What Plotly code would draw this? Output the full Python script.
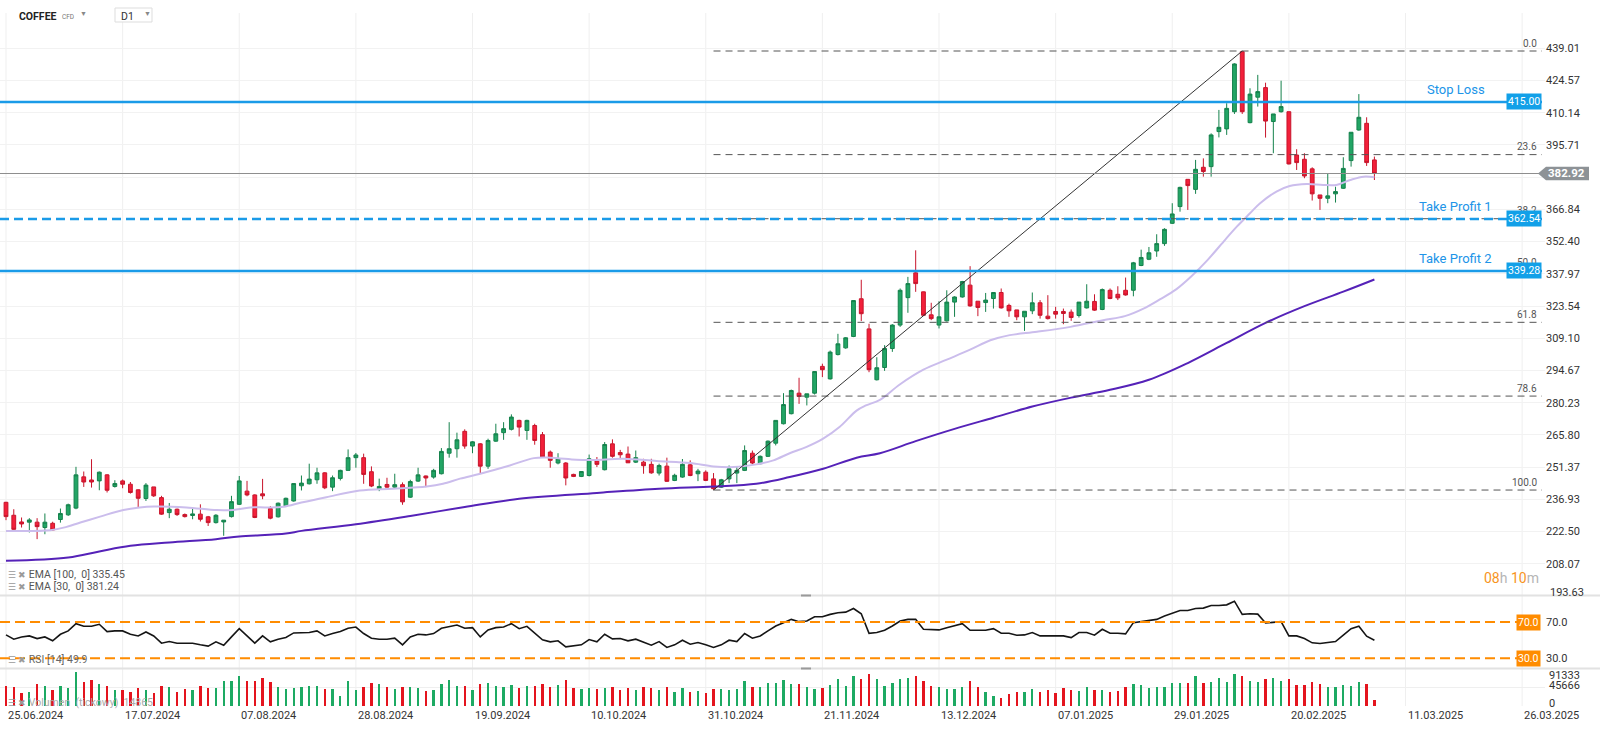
import plotly.graph_objects as go

# ---------------- DATA ----------------
opens = [235.6, 229.8, 226.8, 226.7, 226.7, 224.3, 226.2, 227.9, 230.0, 233.0,
         247.0, 245.6, 245.2, 247.9, 242.7, 245.2, 243.7, 241.2, 237.3, 242.5,
         237.7, 231.0, 232.5, 230.1, 229.7, 230.3, 229.1, 226.5, 226.8, 229.2,
         234.7, 240.6, 238.9, 239.4, 232.8, 229.1, 234.0, 236.2, 243.0, 243.9,
         245.7, 248.8, 242.4, 246.3, 249.9, 255.6, 255.6, 249.3, 241.5, 243.6,
         242.4, 243.5, 237.9, 245.1, 247.4, 246.9, 248.4, 257.6, 259.6, 267.4,
         260.8, 261.8, 251.8, 263.0, 266.8, 268.3, 272.3, 267.8, 270.0, 265.9,
         258.1, 253.2, 253.2, 248.1, 247.2, 247.6, 254.1, 250.2, 261.8, 257.9,
         257.2, 253.6, 253.6, 252.6, 248.7, 251.8, 245.4, 246.9, 252.4, 248.4,
         249.1, 246.1, 242.4, 246.1, 248.7, 249.9, 257.6, 252.9, 256.2, 262.1,
         270.8, 275.3, 284.5, 282.7, 284.5, 296.5, 290.9, 301.8, 304.8, 309.9,
         326.8, 313.3, 290.5, 296.0, 304.5, 315.0, 327.3, 338.4, 329.9, 319.6,
         315.0, 316.9, 325.3, 327.6, 332.9, 325.7, 325.1, 326.9, 329.6, 323.8,
         321.8, 318.7, 321.4, 325.0, 319.0, 321.1, 321.1, 320.8, 319.3, 322.7,
         325.6, 322.0, 330.6, 328.8, 330.6, 330.6, 341.7, 344.5, 348.2, 351.5,
         360.6, 368.1, 380.3, 375.8, 385.7, 386.0, 401.7, 402.9, 410.6, 437.5,
         405.7, 417.1, 421.4, 406.2, 410.6, 410.6, 391.2, 389.3, 385.0, 373.3,
         371.8, 373.8, 376.3, 388.7, 402.4, 405.4, 389.0]
highs = [235.8, 232.5, 228.8, 228.5, 228.5, 230.6, 226.9, 232.8, 235.0, 251.5,
         249.4, 254.9, 249.4, 248.2, 245.5, 245.8, 244.7, 241.4, 244.2, 242.5,
         238.5, 235.3, 232.8, 230.6, 232.8, 234.7, 229.5, 230.3, 227.6, 238.5,
         247.4, 245.2, 239.2, 246.1, 233.9, 235.5, 237.7, 244.0, 247.6, 252.9,
         251.1, 249.1, 247.6, 250.2, 259.3, 257.7, 257.4, 251.7, 246.2, 246.6,
         248.4, 244.5, 245.7, 251.1, 247.6, 250.6, 259.9, 271.5, 266.8, 268.3,
         263.0, 262.1, 264.1, 270.8, 271.5, 275.0, 272.6, 272.6, 270.8, 267.1,
         258.8, 257.6, 253.6, 248.4, 249.6, 257.0, 255.9, 262.6, 263.8, 259.1,
         260.6, 258.8, 255.1, 255.1, 252.9, 255.6, 248.4, 255.0, 254.4, 250.6,
         249.9, 248.7, 246.1, 252.1, 251.4, 261.1, 258.8, 256.6, 263.3, 272.3,
         284.5, 286.1, 291.4, 284.2, 294.2, 297.7, 303.6, 311.1, 309.6, 326.0,
         335.3, 315.6, 300.6, 306.0, 315.4, 331.4, 336.6, 348.5, 330.0, 325.0,
         325.7, 330.6, 327.9, 334.8, 341.4, 325.7, 329.4, 329.6, 331.4, 324.6,
         321.8, 321.2, 329.6, 326.2, 328.4, 323.2, 322.4, 322.0, 325.3, 333.3,
         328.8, 331.4, 331.4, 332.4, 336.3, 343.3, 348.8, 350.0, 355.7, 358.4,
         369.6, 377.0, 380.3, 389.0, 389.7, 400.9, 411.4, 414.4, 432.3, 437.8,
         421.1, 427.1, 423.6, 409.6, 424.5, 410.6, 393.8, 392.0, 385.7, 373.3,
         383.0, 377.0, 390.2, 401.4, 418.5, 408.1, 390.5]
lows = [227.6, 223.3, 224.3, 222.1, 219.1, 221.3, 222.8, 226.5, 229.5, 232.5,
        242.5, 242.2, 241.0, 240.0, 242.2, 241.9, 239.5, 233.2, 236.2, 238.0,
        230.0, 228.5, 229.5, 228.8, 228.0, 227.0, 225.0, 226.1, 220.6, 228.8,
        234.4, 238.3, 228.5, 237.0, 228.0, 228.8, 233.5, 235.9, 240.9, 243.6,
        243.9, 241.5, 240.6, 245.4, 249.9, 251.1, 243.9, 242.4, 240.6, 242.1,
        241.7, 234.5, 237.6, 244.7, 242.4, 246.2, 248.1, 255.6, 255.6, 259.6,
        257.6, 248.7, 250.6, 262.7, 263.6, 267.8, 265.1, 263.6, 261.4, 255.9,
        251.1, 252.6, 243.2, 246.9, 246.9, 247.2, 251.4, 249.9, 255.6, 255.1,
        253.3, 253.2, 248.4, 248.4, 247.6, 244.7, 245.1, 246.6, 247.3, 245.1,
        245.1, 241.1, 242.1, 244.2, 244.2, 249.6, 252.6, 252.6, 255.9, 261.1,
        270.5, 275.0, 279.7, 279.0, 283.9, 291.7, 290.6, 301.4, 304.4, 309.6,
        316.8, 293.9, 290.2, 294.5, 303.0, 314.2, 320.5, 329.9, 319.1, 317.2,
        313.5, 316.6, 318.7, 327.3, 323.2, 319.0, 320.9, 322.4, 322.4, 318.7,
        317.2, 312.4, 319.9, 317.9, 317.5, 317.9, 315.4, 316.9, 318.4, 322.4,
        321.4, 321.7, 326.6, 326.2, 328.2, 327.9, 341.4, 344.1, 345.6, 350.5,
        360.3, 365.8, 366.6, 373.8, 381.5, 381.5, 399.1, 400.2, 409.6, 409.6,
        405.4, 412.9, 399.0, 392.0, 410.2, 387.0, 384.5, 380.8, 370.8, 366.6,
        369.6, 369.9, 376.0, 386.0, 402.1, 386.3, 380.0]
closes = [229.2, 223.5, 225.9, 227.7, 224.7, 226.7, 223.2, 230.6, 234.5, 247.9,
          244.7, 244.7, 249.1, 241.0, 244.0, 243.7, 240.0, 237.4, 243.3, 238.5,
          230.3, 232.5, 230.1, 229.2, 230.4, 228.0, 226.5, 229.8, 227.6, 235.9,
          245.2, 238.9, 228.8, 238.5, 228.5, 235.2, 237.4, 244.0, 244.2, 246.0,
          248.8, 242.1, 246.6, 249.9, 255.6, 256.8, 248.1, 242.9, 242.7, 242.4,
          243.5, 235.8, 244.9, 247.9, 246.5, 249.9, 258.4, 259.6, 263.6, 260.8,
          262.7, 251.8, 263.3, 266.3, 268.6, 273.8, 269.3, 272.3, 263.3, 255.9,
          254.4, 255.1, 246.5, 247.2, 249.4, 255.1, 252.6, 261.5, 256.2, 256.9,
          253.3, 255.6, 252.0, 248.8, 252.1, 245.0, 247.7, 252.6, 247.6, 249.6,
          245.4, 241.7, 245.7, 250.6, 249.9, 258.8, 253.2, 256.2, 263.0, 272.3,
          279.4, 285.7, 283.0, 284.2, 294.2, 295.0, 302.9, 306.6, 309.3, 326.0,
          320.1, 295.0, 295.9, 304.5, 315.0, 330.6, 333.6, 333.6, 319.4, 317.9,
          318.7, 325.3, 327.6, 334.5, 323.6, 322.9, 326.2, 329.6, 322.7, 321.4,
          318.7, 321.2, 325.0, 319.4, 317.9, 319.9, 320.2, 318.4, 325.3, 325.7,
          321.7, 330.9, 326.9, 327.2, 328.5, 342.9, 345.3, 347.4, 351.5, 357.9,
          364.8, 376.7, 377.5, 384.8, 383.8, 400.2, 403.6, 412.1, 432.0, 410.6,
          418.5, 419.6, 406.4, 409.6, 412.9, 387.2, 387.8, 381.8, 373.8, 371.8,
          372.9, 374.8, 385.2, 401.4, 408.1, 387.8, 382.92]
volumes = [51100, 47100, 32500, 36500, 53600, 49500, 39000, 51100, 45500, 85200,
           60900, 64900, 53600, 49500, 39000, 40600, 34900, 45500, 41400, 33300,
           49500, 47100, 34900, 43000, 39000, 49500, 45500, 44600, 61700, 63300,
           73100, 61700, 63300, 69000, 60900, 48700, 42200, 45500, 47900, 51100,
           51100, 43000, 42200, 26800, 61700, 39000, 48700, 57600, 54400, 47100,
           43000, 48700, 48700, 44600, 38200, 39000, 55200, 64100, 51100, 51100,
           40600, 55200, 56800, 51100, 48700, 52800, 44600, 51100, 51100, 55200,
           47100, 52800, 64900, 44600, 43000, 44600, 43000, 45500, 47100, 40600,
           44600, 40600, 48700, 44600, 40600, 48700, 36500, 44600, 36500, 38200,
           34100, 43000, 43000, 40600, 43000, 62500, 48700, 47100, 56800, 56800,
           64900, 54400, 54400, 47100, 43000, 44600, 52800, 67400, 50300, 74700,
           67400, 79600, 67400, 50300, 56800, 66600, 70600, 74700, 63300, 50300,
           48700, 43000, 43000, 48700, 62500, 47100, 36500, 26000, 21900, 30000,
           36500, 36500, 43000, 36500, 40600, 34100, 44600, 39000, 38200, 47100,
           40600, 39000, 36500, 38200, 47100, 54400, 52800, 44600, 48700, 47100,
           56800, 56800, 56800, 74700, 56800, 60900, 69000, 59300, 78700, 74700,
           63300, 59300, 67400, 69000, 62500, 66600, 52800, 52800, 59300, 55200,
           48700, 47100, 52800, 51100, 59300, 55200, 14865]
rsi = [55.8, 51.1, 53.6, 54.7, 51.8, 53.6, 49.3, 56.5, 60.2, 68.2,
       65.3, 65.3, 67.5, 59.5, 60.2, 60.2, 56.5, 54.7, 59.1, 54.7,
       46.7, 48.5, 46.7, 46.7, 46.7, 44.9, 43.5, 48.2, 44.5, 53.6,
       62.7, 54.7, 46.7, 54.7, 48.2, 51.1, 52.9, 58.0, 58.0, 58.4,
       60.2, 54.7, 57.3, 59.5, 63.1, 64.5, 57.3, 52.2, 51.1, 51.1,
       52.2, 44.9, 53.6, 56.5, 55.8, 57.3, 63.1, 64.5, 66.7, 63.1,
       63.8, 53.6, 61.3, 63.8, 64.5, 68.2, 62.7, 65.3, 57.3, 50.4,
       48.2, 49.3, 42.7, 43.8, 44.9, 50.7, 48.2, 56.5, 51.5, 51.8,
       49.3, 51.1, 47.5, 44.5, 48.5, 42.0, 44.9, 50.0, 45.6, 47.5,
       44.9, 42.0, 44.9, 50.0, 48.5, 57.3, 52.2, 54.7, 60.2, 65.6,
       69.3, 72.9, 70.4, 71.1, 75.8, 75.8, 78.4, 80.2, 80.9, 84.9,
       79.1, 57.6, 58.4, 60.9, 65.6, 71.1, 72.9, 72.9, 62.0, 61.3,
       61.3, 63.8, 65.6, 68.2, 60.9, 60.9, 60.9, 62.7, 57.6, 57.6,
       55.5, 55.8, 58.4, 54.7, 54.7, 55.5, 54.7, 52.9, 58.4, 58.4,
       55.5, 62.0, 57.6, 57.6, 56.9, 69.3, 70.4, 71.8, 72.9, 76.5,
       79.5, 82.7, 82.7, 84.9, 85.3, 88.2, 88.2, 88.9, 92.9, 78.4,
       79.1, 78.7, 68.9, 70.0, 70.4, 54.7, 54.7, 51.8, 47.1, 46.4,
       47.5, 48.5, 55.5, 62.7, 65.3, 54.4, 49.9]

ema30_idx = [0, 5.7, 7.8, 10, 12.1, 15.1, 17.2, 19, 23.2, 27.1, 29.2, 31.4, 33.5, 35.7, 38,
             41.2, 45.5, 49.8, 54.1, 56.2, 58.4, 61, 64.8, 67.9, 70, 73.4, 75.6, 79.4, 83.7,
             88, 91, 93.6, 96.5, 98.7, 100.8, 102.9, 105.1, 107.2, 109.4, 110.6, 112.4, 115,
             118, 121, 124, 126.6, 129.1, 132.6, 136.9, 141.1, 143.9, 146.3, 148.4, 150.5,
             152.5, 154.5, 156.8, 158.3, 160, 161.3, 163.4, 165.1, 167.3, 169.4, 171.1,
             172.9, 174.6, 176]
ema30_val = [222.8, 223.1, 224.6, 227.0, 229.2, 232.2, 233.3, 233.7, 233.3, 232.1, 232.2, 233.3,
             233.3, 233.6, 235.5, 237.9, 240.9, 241.7, 242.7, 243.9, 246.2, 248.4, 252.1,
             255.4, 255.6, 254.7, 254.6, 255.1, 254.1, 253.2, 251.7, 251.4, 252.6, 254.4,
             257.6, 260.3, 264.1, 269.3, 276.7, 279.0, 281.5, 288.5, 295.0, 299.5, 304.0,
             308.2, 310.5, 312.0, 314.2, 317.2, 319.0, 322.4, 326.5, 331.0, 337.0, 344.0,
             353.2, 359.1, 365.1, 369.6, 374.8, 377.3, 378.2, 377.8, 377.8, 380.0, 381.5,
             381.24]
ema100_idx = [0, 8, 12, 16, 21, 27, 30, 36, 38, 45, 52, 59, 66, 76, 84, 91, 96.5, 100.8,
              105.1, 109.4, 112.4, 117, 122, 127, 132, 137, 142, 147, 152, 157, 162, 167,
              172, 176]
ema100_val = [209.4, 210.9, 213.6, 216.1, 217.6, 219.1, 220.3, 221.6, 222.8, 225.8, 229.5,
              233.5, 237.2, 239.8, 241.7, 242.7, 243.9, 246.9, 250.6, 255.6, 257.6, 263.0,
              268.5, 273.5, 278.5, 282.5, 286.0, 290.5, 298.0, 307.0, 316.0, 323.5, 330.0,
              335.45]

date_tick_idx = [0, 15, 30, 45, 60, 75, 90, 105, 120, 135, 150, 165, 180, 195]
date_tick_lbl = ["25.06.2024", "17.07.2024", "07.08.2024", "28.08.2024", "19.09.2024",
                 "10.10.2024", "31.10.2024", "21.11.2024", "13.12.2024", "07.01.2025",
                 "29.01.2025", "20.02.2025", "11.03.2025", "26.03.2025"]
price_ticks = [193.63, 208.07, 222.50, 236.93, 251.37, 265.80, 280.23, 294.67, 309.10,
               323.54, 337.97, 352.40, 366.84, 381.27, 395.71, 410.14, 424.57, 439.01]
price_tick_lbl = ["193.63", "208.07", "222.50", "236.93", "251.37", "265.80", "280.23",
                  "294.67", "309.10", "323.54", "337.97", "352.40", "366.84", "",
                  "395.71", "410.14", "424.57", "439.01"]
rsi_levels = [70.0, 30.0]
vol_ticks = [0, 45666, 91333]

stop_loss = 415.00
take_profit_1 = 362.54
take_profit_2 = 339.28
last_price = 382.92
fib_low_idx, fib_low = 91, 241.1
fib_high_idx, fib_high = 159, 437.8
fib_levels = [0.0, 23.6, 38.2, 50.0, 61.8, 78.6, 100.0]
ema100_last, ema30_last, rsi_last, vol_last = 335.45, 381.24, 49.9, 14865

# ---------------- LAYOUT GEOMETRY ----------------
W, H = 1600, 737
PR = 1545                      # right edge of plotting area (px)
BAR0, BARW = 6.0, 7.775        # pixel of first bar, px per bar
x_lo = -BAR0 / BARW
x_hi = (PR - BAR0) / BARW
x_line_end = (1542 - BAR0) / BARW


def yp(pix):
    return 1 - pix / H


def xp(pix):
    return pix / PR


PPX = 2.232                    # px per price unit
price_lo = 439.01 - (595 - 48.3) / PPX
price_hi = 439.01 + (48.3 - 13) / PPX

GREEN, GREEN_L = "#22a565", "#15824c"
RED, RED_L = "#f2203a", "#c8152c"
BLUE = "#1a9be8"
ORANGE = "#ff8c00"
FONT = "Roboto, 'Open Sans', sans-serif"

n = len(opens)
idx = list(range(n))
vol_colors = ["#1daa63" if c >= o else "#e4141e" for o, c in zip(opens, closes)]

fig = go.Figure()

fig.add_trace(go.Candlestick(
    x=idx, open=opens, high=highs, low=lows, close=closes,
    xaxis="x", yaxis="y", whiskerwidth=0,
    increasing=dict(fillcolor=GREEN, line=dict(color=GREEN_L, width=1)),
    decreasing=dict(fillcolor=RED, line=dict(color=RED_L, width=1)),
    hoverinfo="skip"))
fig.add_trace(go.Scatter(x=ema30_idx, y=ema30_val, mode="lines", yaxis="y",
                         line=dict(color="#cbbdec", width=2, shape="spline"), hoverinfo="skip"))
fig.add_trace(go.Scatter(x=ema100_idx, y=ema100_val, mode="lines", yaxis="y",
                         line=dict(color="#5522b8", width=2, shape="spline"), hoverinfo="skip"))
fig.add_trace(go.Scatter(x=idx, y=rsi, mode="lines", yaxis="y2",
                         line=dict(color="#151515", width=1.6), hoverinfo="skip"))
fig.add_trace(go.Bar(x=idx, y=volumes, yaxis="y3", width=0.3,
                     marker=dict(color=vol_colors, line=dict(width=0)), hoverinfo="skip"))

shapes = []
# vertical grid
for i in date_tick_idx:
    shapes.append(dict(type="line", xref="x", yref="paper", x0=i, x1=i, y0=yp(706), y1=yp(13),
                       line=dict(color="#efefef", width=1), layer="below"))
# panel separators
for pix in (595.5, 668.5):
    shapes.append(dict(type="line", xref="paper", yref="paper", x0=0, x1=W / PR, y0=yp(pix), y1=yp(pix),
                       line=dict(color="#e2e2e2", width=2), layer="below"))
    shapes.append(dict(type="line", xref="paper", yref="paper", x0=xp(801), x1=xp(811), y0=yp(pix), y1=yp(pix),
                       line=dict(color="#9a9a9a", width=2)))
# fibonacci dashed levels
for lv in fib_levels:
    val = fib_high - (fib_high - fib_low) * lv / 100
    shapes.append(dict(type="line", xref="x", yref="y", x0=fib_low_idx, x1=x_line_end, y0=val, y1=val,
                       line=dict(color="#555555", width=1, dash="7px,5px")))
# trend line
shapes.append(dict(type="line", xref="x", yref="y", x0=fib_low_idx, y0=fib_low, x1=fib_high_idx, y1=fib_high,
                   line=dict(color="#333333", width=1)))
# last price line
shapes.append(dict(type="line", xref="paper", yref="y", x0=0, x1=xp(1540), y0=last_price, y1=last_price,
                   line=dict(color="#8e8e8e", width=1.2)))
# SL / TP lines
shapes.append(dict(type="line", xref="paper", yref="y", x0=0, x1=xp(1542), y0=stop_loss, y1=stop_loss,
                   line=dict(color=BLUE, width=2.5)))
shapes.append(dict(type="line", xref="paper", yref="y", x0=0, x1=xp(1542), y0=take_profit_1, y1=take_profit_1,
                   line=dict(color=BLUE, width=2.5, dash="9px,5px")))
shapes.append(dict(type="line", xref="paper", yref="y", x0=0, x1=xp(1542), y0=take_profit_2, y1=take_profit_2,
                   line=dict(color=BLUE, width=2.5)))
# RSI levels
for lv in rsi_levels:
    shapes.append(dict(type="line", xref="paper", yref="y2", x0=0, x1=xp(1542), y0=lv, y1=lv,
                       line=dict(color=ORANGE, width=2, dash="10px,5px")))
# last price tag (arrow)
hh = 6.8 / PPX
shapes.append(dict(type="path", xref="paper", yref="y",
                   path=(f"M {xp(1538)} {last_price} L {xp(1546)} {last_price + hh} "
                         f"L {xp(1589)} {last_price + hh} L {xp(1589)} {last_price - hh} "
                         f"L {xp(1546)} {last_price - hh} Z"),
                   fillcolor="#8d9296", line=dict(width=0)))
# header D1 box
shapes.append(dict(type="rect", xref="paper", yref="paper", x0=xp(115), x1=xp(152), y0=yp(22), y1=yp(8),
                   line=dict(color="#dddddd", width=1), fillcolor="white"))

ann = []


def A(**kw):
    d = dict(showarrow=False, font=dict(family=FONT, size=11, color="#333"))
    d.update(kw)
    ann.append(d)


# date labels
for i, lbl in zip(date_tick_idx, date_tick_lbl):
    A(x=i, xref="x", y=yp(715.5), yref="paper", text=lbl, xanchor="left", yanchor="middle")
# lowest price label (sits at the panel's bottom edge)
A(x=xp(1548), xref="paper", y=yp(592), yref="paper", text=price_tick_lbl[0], xanchor="left",
  yanchor="middle", font=dict(family=FONT, size=11, color="#333"))
# volume axis labels
for v, sh in zip(vol_ticks, (3, 1.5, -6.5)):
    A(x=xp(1547), xref="paper", y=v, yref="y3", text=str(v), xanchor="left", yanchor="middle", yshift=sh)
# fib labels
for lv in fib_levels:
    val = fib_high - (fib_high - fib_low) * lv / 100
    A(x=xp(1539), xref="paper", y=val, yref="y", text=f"{lv:.1f}", xanchor="right", yanchor="middle",
      yshift=8, font=dict(family=FONT, size=10, color="#555"))
# blue tags + names
for val, name in ((stop_loss, "Stop Loss"), (take_profit_1, "Take Profit 1"), (take_profit_2, "Take Profit 2")):
    A(x=xp(1524), xref="paper", y=val, yref="y", text=f"{val:.2f}", xanchor="center", yanchor="middle",
      bgcolor="#12a0e8", borderpad=1, font=dict(family=FONT, size=10.5, color="white"))
    A(x=xp(1494 if name != "Stop Loss" else 1487), xref="paper", y=val, yref="y", text=name,
      xanchor="right", yanchor="middle", yshift=12, font=dict(family=FONT, size=13, color="#2094e8"))
# last price tag text
A(x=xp(1566), xref="paper", y=last_price, yref="y", text=f"<b>{last_price:.2f}</b>", xanchor="center",
  yanchor="middle", font=dict(family=FONT, size=11.5, color="white"))
# RSI tags
for lv in rsi_levels:
    A(x=xp(1528), xref="paper", y=lv, yref="y2", text=f"{lv:.1f}", xanchor="center", yanchor="middle",
      bgcolor=ORANGE, borderpad=1, font=dict(family=FONT, size=10.5, color="white"))
# timer
A(x=xp(1541), xref="paper", y=yp(578), yref="paper", xanchor="right", yanchor="middle",
  text=("<span style='color:#f7941d'>08</span><span style='color:#b5b5b5'>h</span> "
        "<span style='color:#f7941d'>10</span><span style='color:#b5b5b5'>m</span>"),
  font=dict(family=FONT, size=14, color="#f7941d"))
# indicator legends
icon = "<span style='color:#9a9a9a;font-size:9px'>☰ ✖</span> "
A(x=xp(6), xref="paper", y=yp(574), yref="paper", xanchor="left", yanchor="middle",
  text=icon + f"EMA [100,  0] {ema100_last:.2f}", font=dict(family=FONT, size=10.5, color="#555"))
A(x=xp(6), xref="paper", y=yp(586), yref="paper", xanchor="left", yanchor="middle",
  text=icon + f"EMA [30,  0] {ema30_last:.2f}", font=dict(family=FONT, size=10.5, color="#555"))
A(x=xp(6), xref="paper", y=yp(659), yref="paper", xanchor="left", yanchor="middle",
  text=icon + f"RSI [14] {rsi_last:.1f}", font=dict(family=FONT, size=10.5, color="#666"))
A(x=xp(6), xref="paper", y=yp(702), yref="paper", xanchor="left", yanchor="middle",
  text=icon + f"Volumen  (tickowy)  {vol_last}", font=dict(family=FONT, size=10.5, color="#aaa"))
# header
A(x=xp(17), xref="paper", y=yp(16), yref="paper", xanchor="left", yanchor="middle",
  text="<b>COFFEE</b>", font=dict(family=FONT, size=10.5, color="#222"))
A(x=xp(60), xref="paper", y=yp(17), yref="paper", xanchor="left", yanchor="middle",
  text="CFD", font=dict(family=FONT, size=6.5, color="#777"))
A(x=xp(78), xref="paper", y=yp(14), yref="paper", xanchor="left", yanchor="middle",
  text="▼", font=dict(family=FONT, size=7, color="#888"))
A(x=xp(119), xref="paper", y=yp(16), yref="paper", xanchor="left", yanchor="middle",
  text="D1", font=dict(family=FONT, size=10.5, color="#333"))
A(x=xp(142), xref="paper", y=yp(14), yref="paper", xanchor="left", yanchor="middle",
  text="▼", font=dict(family=FONT, size=7, color="#888"))

fig.update_layout(
    width=W, height=H, margin=dict(l=0, r=W - PR, t=0, b=0),
    paper_bgcolor="white", plot_bgcolor="white", showlegend=False,
    font=dict(family=FONT, size=11, color="#333"),
    xaxis=dict(range=[x_lo, x_hi], showgrid=False, zeroline=False, showticklabels=False,
               rangeslider=dict(visible=False), fixedrange=True, showline=False),
    yaxis=dict(domain=[yp(595), yp(13)], range=[price_lo, price_hi], side="right",
               tickvals=price_ticks, ticktext=price_tick_lbl, showgrid=True, gridcolor="#f2f2f2",
               zeroline=False, ticks="", tickfont=dict(family=FONT, size=11, color="#333"), fixedrange=True),
    yaxis2=dict(domain=[yp(668.3), yp(595.5)], range=[19.07, 99.18], side="right", anchor="x",
                tickvals=rsi_levels, ticktext=[f"{v:.1f}" for v in rsi_levels], showgrid=False,
                zeroline=False, ticks="", tickfont=dict(family=FONT, size=11, color="#333"), fixedrange=True),
    yaxis3=dict(domain=[yp(706), yp(668.5)], range=[0, 91333], side="right", anchor="x",
                tickvals=vol_ticks, showticklabels=False, showgrid=True, gridcolor="#efefef",
                zeroline=False, ticks="", fixedrange=True),
    bargap=0, shapes=shapes, annotations=ann,
)

fig.write_html("out.html", config={"displayModeBar": False},
               post_script="document.body.style.margin='0';document.body.style.overflow='hidden';")
